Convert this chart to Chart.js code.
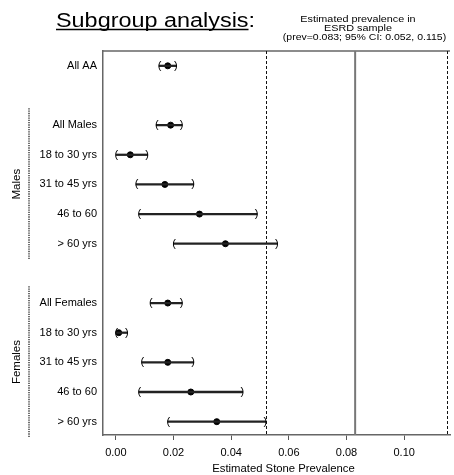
<!DOCTYPE html>
<html>
<head>
<meta charset="utf-8">
<script src="https://cdn.jsdelivr.net/npm/chart.js@4.4.1/dist/chart.umd.min.js"></script>
<style>
  body { margin: 0; background: #fff; }
  canvas { display: block; }
</style>
</head>
<body>
<canvas id="chart" width="454" height="475"></canvas>
<script>
// Rows from top to bottom (blank rows separate the groups)
const rowLabels = ['All AA', '', 'All Males', '18 to 30 yrs', '31 to 45 yrs', '46 to 60', '> 60 yrs',
  '', 'All Females', '18 to 30 yrs', '31 to 45 yrs', '46 to 60', '> 60 yrs'];
const estimates = [0.018, null, 0.019, 0.005, 0.017, 0.029, 0.038, null, 0.018, 0.001, 0.018, 0.026, 0.035];
const ciLow = [0.015, null, 0.014, 0.000, 0.007, 0.008, 0.020, null, 0.012, 0.000, 0.009, 0.008, 0.018];
const ciHigh = [0.021, null, 0.023, 0.011, 0.027, 0.049, 0.056, null, 0.023, 0.004, 0.027, 0.044, 0.052];

// ESRD sample prevalence and its 95% CI
const refPrev = 0.083;
const refCI = [0.052, 0.115];

const xTicks = [0, 0.02, 0.04, 0.06, 0.08, 0.10];
const groupNames = ['Males', 'Females'];
const groupFirstRow = [2, 8];
const groupLastRow = [6, 12];

const FONT = 'Liberation Sans, Arial, Helvetica, sans-serif';
Chart.defaults.font.family = FONT;
Chart.defaults.color = '#000';

const rows = rowLabels.map((_, i) => i);

function stretchText(ctx, text, x, y, sx) {
  ctx.save();
  ctx.translate(x, y);
  ctx.scale(sx, 1);
  ctx.fillText(text, 0, 0);
  ctx.restore();
}

const forestPlugin = {
  id: 'forest',
  beforeDatasetsDraw(chart) {
    const { ctx, chartArea, scales: { x } } = chart;
    ctx.save();
    // top frame line
    ctx.strokeStyle = '#666';
    ctx.lineWidth = 1.5;
    ctx.beginPath();
    ctx.moveTo(chartArea.left, chartArea.top);
    ctx.lineTo(chartArea.right, chartArea.top);
    ctx.stroke();

    // reference prevalence + CI
    const px = x.getPixelForValue(refPrev);
    ctx.strokeStyle = '#777';
    ctx.lineWidth = 2;
    ctx.beginPath();
    ctx.moveTo(px, chartArea.top);
    ctx.lineTo(px, chartArea.bottom);
    ctx.stroke();

    ctx.strokeStyle = '#111';
    ctx.lineWidth = 1;
    ctx.setLineDash([3, 2]);
    refCI.forEach(v => {
      const p = Math.round(x.getPixelForValue(v)) + 0.5;
      ctx.beginPath();
      ctx.moveTo(p, chartArea.top);
      ctx.lineTo(p, chartArea.bottom);
      ctx.stroke();
    });
    ctx.restore();
  },
  afterDatasetsDraw(chart) {
    const { ctx, scales: { x, y } } = chart;
    ctx.save();
    // bracket end caps of the intervals
    ctx.fillStyle = '#000';
    ctx.font = '11px ' + FONT;
    ctx.textAlign = 'center';
    ctx.textBaseline = 'middle';
    rows.forEach(i => {
      if (ciLow[i] === null) return;
      const py = y.getPixelForValue(i);
      ctx.fillText('(', x.getPixelForValue(ciLow[i]) + 0.5, py);
      ctx.fillText(')', x.getPixelForValue(ciHigh[i]) - 0.5, py);
    });

    // group labels with dotted brackets
    groupNames.forEach((name, g) => {
      const top = y.getPixelForValue(groupFirstRow[g] - 0.57);
      const bottom = y.getPixelForValue(groupLastRow[g] + 0.55);
      ctx.strokeStyle = '#222';
      ctx.lineWidth = 1.3;
      ctx.setLineDash([1.3, 1]);
      ctx.beginPath();
      ctx.moveTo(29, top);
      ctx.lineTo(29, bottom);
      ctx.stroke();

      ctx.save();
      ctx.translate(17, (top + bottom) / 2);
      ctx.rotate(-Math.PI / 2);
      ctx.font = '11.5px ' + FONT;
      ctx.fillText(name, 0, 0);
      ctx.restore();
    });
    ctx.setLineDash([]);

    // x axis title
    ctx.font = '11.3px ' + FONT;
    ctx.fillText('Estimated Stone Prevalence', 283.5, 469);

    // main title, underlined
    ctx.textAlign = 'left';
    ctx.textBaseline = 'alphabetic';
    ctx.font = '20px ' + FONT;
    const sx = 1.17;
    stretchText(ctx, 'Subgroup analysis:', 56, 27, sx);
    const uw = ctx.measureText('Subgroup analysis').width * sx;
    ctx.lineWidth = 1.6;
    ctx.strokeStyle = '#000';
    ctx.beginPath();
    ctx.moveTo(56, 29.5);
    ctx.lineTo(56 + uw, 29.5);
    ctx.stroke();

    // reference note
    ctx.textAlign = 'center';
    ctx.textBaseline = 'middle';
    ctx.font = '9px ' + FONT;
    const note = ['Estimated prevalence in', 'ESRD sample', '(prev=' + refPrev + '; 95% CI: ' + refCI[0] + ', ' + refCI[1] + ')'];
    stretchText(ctx, note[0], 358, 20, 1.2);
    stretchText(ctx, note[1], 358, 28.7, 1.2);
    stretchText(ctx, note[2], 364.5, 37.4, 1.165);
    ctx.restore();
  }
};

new Chart(document.getElementById('chart'), {
  type: 'bar',
  data: {
    datasets: [
      {
        // confidence intervals as thin floating bars
        type: 'bar',
        data: rows.filter(i => ciLow[i] !== null).map(i => ({ y: i, x: [ciLow[i], ciHigh[i]] })),
        backgroundColor: '#222',
        barThickness: 1.6,
        borderWidth: 0
      },
      {
        type: 'scatter',
        data: rows.filter(i => estimates[i] !== null).map(i => ({ x: estimates[i], y: i })),
        backgroundColor: '#000',
        borderColor: '#000',
        pointRadius: 3,
        pointHoverRadius: 3
      }
    ]
  },
  options: {
    indexAxis: 'y',
    responsive: false,
    animation: false,
    layout: { padding: { top: 51, left: 0, right: 0, bottom: 0 } },
    plugins: {
      legend: { display: false },
      tooltip: { enabled: false }
    },
    scales: {
      x: {
        type: 'linear',
        min: -0.00446,
        max: 0.1159,
        afterBuildTicks: (scale) => { scale.ticks = xTicks.map(v => ({ value: v })); },
        afterFit: (scale) => { scale.height = 40; },
        ticks: {
          font: { size: 11 },
          padding: 6,
          maxRotation: 0,
          callback: (v) => v.toFixed(2)
        },
        grid: { drawOnChartArea: false, drawTicks: true, tickLength: 5, color: '#555' },
        border: { display: true, color: '#666', width: 1.5 }
      },
      y: {
        type: 'linear',
        reverse: true,
        offset: false,
        min: -0.5,
        max: 12.45,
        afterBuildTicks: (scale) => { scale.ticks = rows.map(i => ({ value: i })); },
        afterFit: (scale) => { scale.width = 103; },
        ticks: {
          font: { size: 11 },
          padding: 6,
          callback: (v) => rowLabels[v]
        },
        grid: { display: false, drawTicks: false },
        border: { display: true, color: '#666', width: 1.5 }
      }
    }
  },
  plugins: [forestPlugin]
});
</script>
</body>
</html>
